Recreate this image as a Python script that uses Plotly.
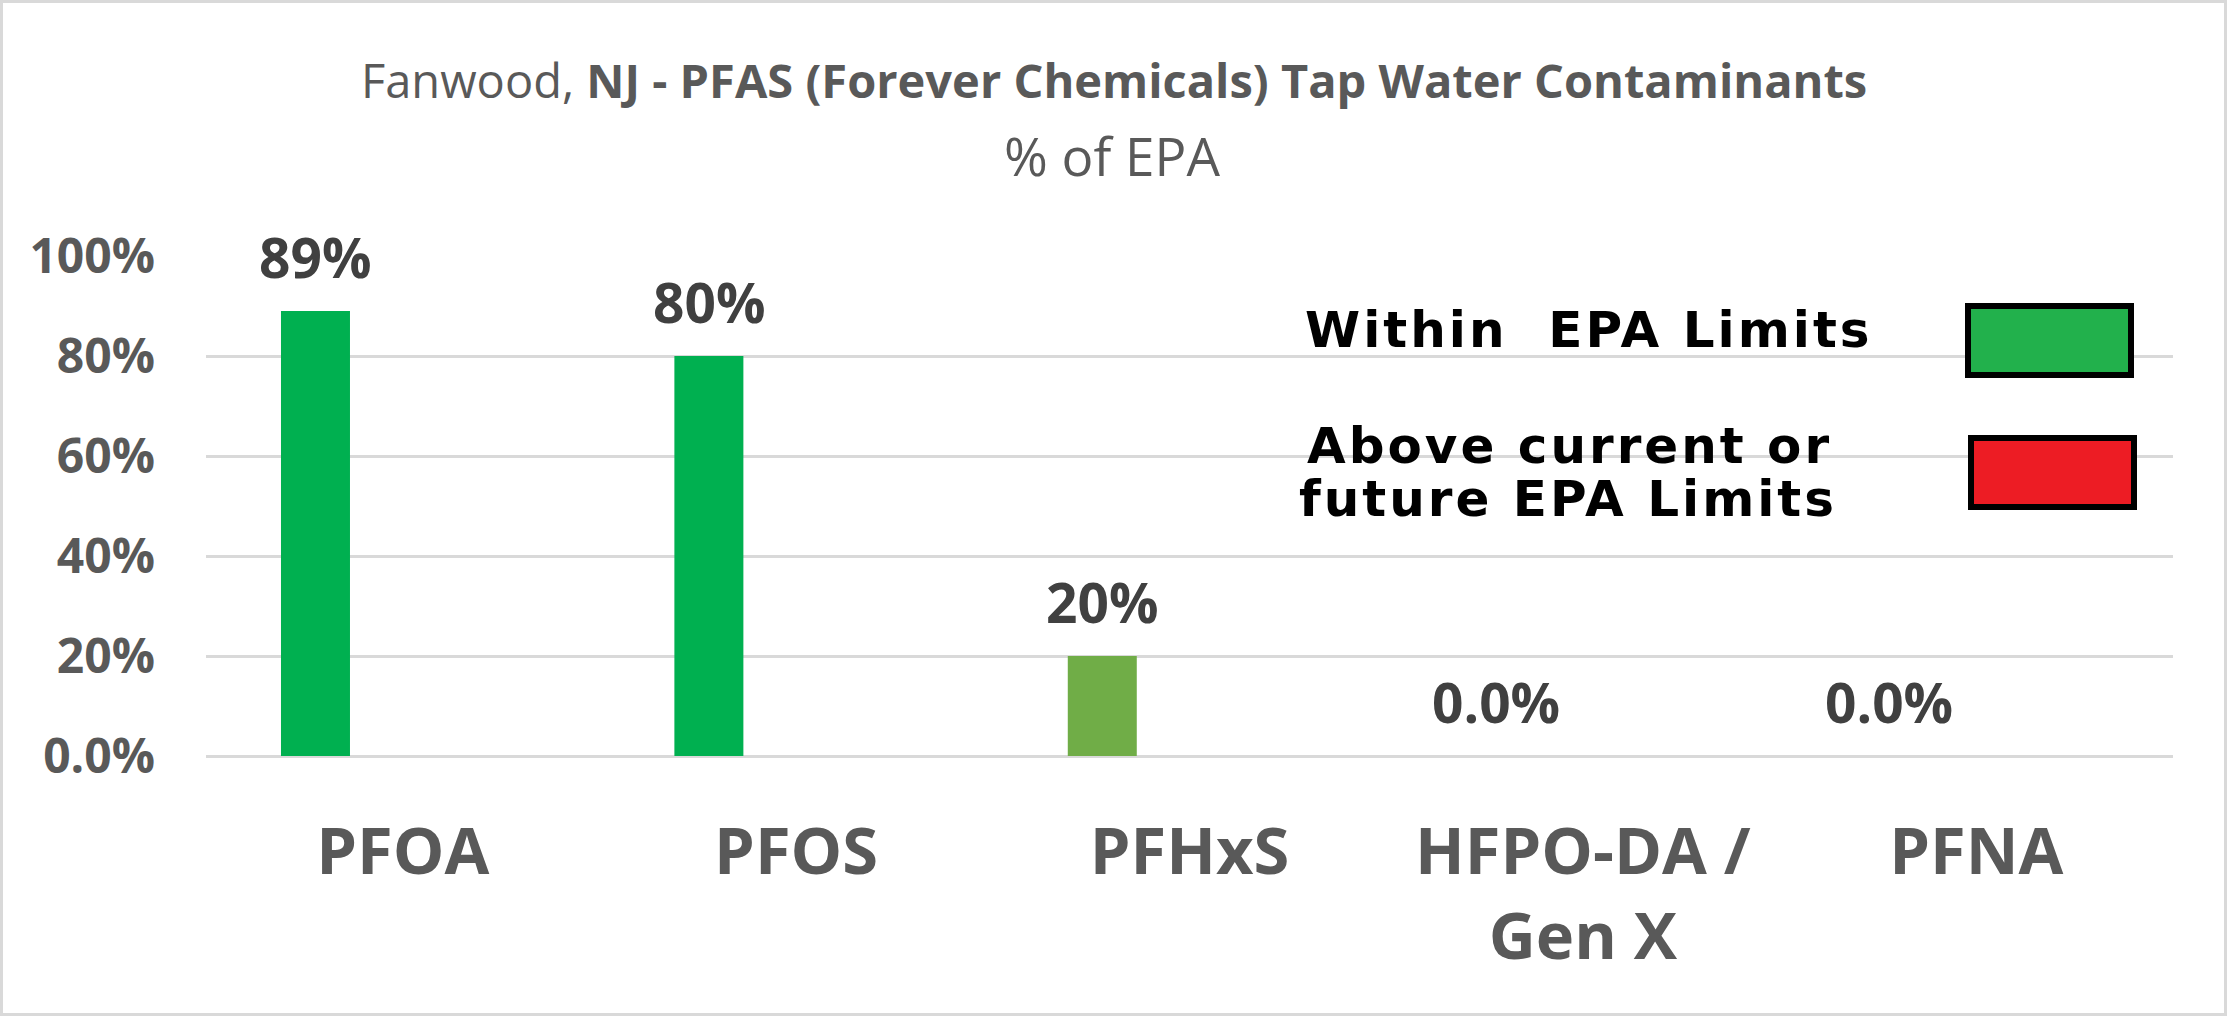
import plotly.graph_objects as go

# Values
CONTAMINANTS = ["PFOA", "PFOS", "PFHxS", "HFPO-DA /<br>Gen X", "PFNA"]
PCT_OF_EPA = [89, 80, 20, 0, 0]
VALUE_LABELS = ["89%", "80%", "20%", "0.0%", "0.0%"]
BAR_COLORS = ["#00B050", "#00B050", "#70AD47", "#00B050", "#00B050"]
Y_TICKS = [0, 20, 40, 60, 80, 100]
Y_TICK_TEXT = ["0.0%", "20%", "40%", "60%", "80%", "100%"]
TITLE = "Fanwood, <b>NJ - PFAS (Forever Chemicals) Tap Water Contaminants</b>"
SUBTITLE = "% of EPA"
KEY_WITHIN = "Within  EPA Limits"
KEY_ABOVE = ["Above current or", "future EPA Limits"]

# Page / plot geometry (pixels)
W, H = 2227, 1016
L, R, T, B = 206, 54, 256, 260
PW, PH = W - L - R, H - T - B

BAR_WIDTH = 0.1754
BAR_OFFSET = -0.3094

GREY = "#595959"
DARK = "#404040"
GRID = "#D9D9D9"
FONT = "Open Sans"


def px_x(x):
    # page pixel -> paper x
    return (x - L) / PW


def px_y(y):
    # page pixel -> paper y
    return (H - B - y) / PH


fig = go.Figure()

fig.add_trace(
    go.Bar(
        x=list(range(len(CONTAMINANTS))),
        y=PCT_OF_EPA,
        width=BAR_WIDTH,
        offset=BAR_OFFSET,
        marker=dict(color=BAR_COLORS, line=dict(width=0)),
        showlegend=False,
        hoverinfo="skip",
    )
)

# data labels above the bars
for i, (val, lab) in enumerate(zip(PCT_OF_EPA, VALUE_LABELS)):
    fig.add_annotation(
        x=i + BAR_OFFSET + BAR_WIDTH / 2,
        y=val,
        text=lab,
        showarrow=False,
        yshift=55,
        xanchor="center",
        yanchor="middle",
        font=dict(family=FONT, size=55, color=DARK, weight="bold"),
    )

# title lines
fig.add_annotation(
    x=px_x(1114), y=px_y(80), xref="paper", yref="paper",
    text=TITLE, showarrow=False, xanchor="center", yanchor="middle",
    font=dict(family=FONT, size=47, color=GREY),
)
fig.add_annotation(
    x=px_x(1112), y=px_y(155), xref="paper", yref="paper",
    text=SUBTITLE, showarrow=False, xanchor="center", yanchor="middle",
    font=dict(family=FONT, size=53, color=GREY),
)

# hand-made key (text left of coloured boxes)
key_font = dict(family="DejaVu Sans", size=50, color="black", weight="bold")
spaced = '<span style="letter-spacing:3px">%s</span>'
fig.add_annotation(
    x=px_x(1303), y=px_y(330), xref="paper", yref="paper",
    text=spaced % KEY_WITHIN, showarrow=False, xanchor="left", yanchor="middle",
    font=key_font,
)
fig.add_annotation(
    x=px_x(1305), y=px_y(446), xref="paper", yref="paper",
    text=spaced % KEY_ABOVE[0], showarrow=False, xanchor="left", yanchor="middle",
    font=key_font,
)
fig.add_annotation(
    x=px_x(1297), y=px_y(499), xref="paper", yref="paper",
    text=spaced % KEY_ABOVE[1], showarrow=False, xanchor="left", yanchor="middle",
    font=key_font,
)
fig.add_shape(
    type="rect", xref="paper", yref="paper",
    x0=px_x(1968), x1=px_x(2131), y0=px_y(375), y1=px_y(306),
    fillcolor="#22B14C", line=dict(color="black", width=6),
)
fig.add_shape(
    type="rect", xref="paper", yref="paper",
    x0=px_x(1971), x1=px_x(2134), y0=px_y(507), y1=px_y(438),
    fillcolor="#ED1C24", line=dict(color="black", width=6),
)

# light outer border of the picture
fig.add_shape(
    type="rect", xref="paper", yref="paper",
    x0=px_x(1.5), x1=px_x(W - 1.5), y0=px_y(H - 1.5), y1=px_y(1.5),
    line=dict(color=GRID, width=3), fillcolor="rgba(0,0,0,0)", layer="below",
)

fig.update_layout(
    width=W,
    height=H,
    autosize=False,
    margin=dict(l=L, r=R, t=T, b=B, pad=0),
    paper_bgcolor="white",
    plot_bgcolor="white",
    showlegend=False,
    xaxis=dict(
        range=[-0.5, len(CONTAMINANTS) - 0.5],
        tickvals=list(range(len(CONTAMINANTS))),
        ticktext=CONTAMINANTS,
        showgrid=False,
        zeroline=False,
        showline=False,
        ticks="",
        ticklabelstandoff=52,
        tickfont=dict(family=FONT, size=65, color=GREY, weight="bold"),
        fixedrange=True,
    ),
    yaxis=dict(
        range=[0, 100],
        tickvals=Y_TICKS,
        ticktext=Y_TICK_TEXT,
        showgrid=True,
        gridcolor=GRID,
        gridwidth=3,
        zeroline=True,
        zerolinecolor=GRID,
        zerolinewidth=3,
        showline=False,
        ticks="",
        ticklabelstandoff=50,
        tickfont=dict(family=FONT, size=48, color=GREY, weight="bold"),
        fixedrange=True,
    ),
)

fig.write_html(
    "out.html",
    config={"displayModeBar": False},
    post_script="document.body.style.margin='0';",
)
